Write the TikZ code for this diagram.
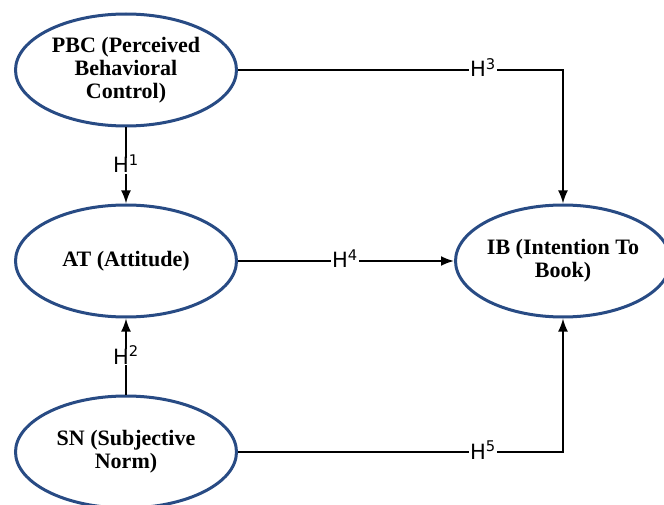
\documentclass[tikz,border=0pt]{standalone}
\usepackage{fontspec}
\setmainfont{Liberation Serif}
\newfontfamily\hypfont{DejaVu Sans}
\usetikzlibrary{positioning,shapes.geometric,arrows.meta}
\definecolor{ConstructBlue}{RGB}{40,75,132}
\tikzset{
  construct/.style={ellipse,draw=ConstructBlue,fill=white,line width=3pt,
    minimum width=221pt,minimum height=112pt,inner sep=0pt,align=center,
    font=\fontsize{22}{23}\selectfont\bfseries},
  hyp/.style={inner sep=1pt,text height=14pt,text depth=0pt,
    font=\fontsize{21}{21}\selectfont\hypfont},
  conn/.style={draw=black,line width=1.9pt},
  connarrow/.style={conn,-{Latex[length=13pt,width=10pt]}},
}

\begin{document}
\begin{tikzpicture}[x=1pt,y=-1pt]
  \useasboundingbox (0,0) rectangle (664,505);

  % constructs
  \node[construct] (pbc) at (126,70) {PBC (Perceived\\Behavioral\\Control)};
  \node[construct] (at) at (126,261) {AT (Attitude)};
  \node[construct] (sn) at (126,452) {SN (Subjective\\Norm)};
  \node[construct,minimum width=208pt] (ib) at (563,261) {IB (Intention To\\Book)};

  % hypotheses
  \node[hyp] (h1) at (126,166) {H\textsuperscript{1}};
  \node[hyp] (h2) at (126,357) {H\textsuperscript{2}};
  \node[hyp] (h3) at (483,70) {H\textsuperscript{3}};
  \node[hyp] (h4) at (345,261) {H\textsuperscript{4}};
  \node[hyp] (h5) at (483,452) {H\textsuperscript{5}};

  \draw[conn] (pbc) -- (h1);
  \draw[connarrow] (h1) -- (at);
  \draw[conn] (sn) -- (h2);
  \draw[connarrow] (h2) -- (at);
  \draw[conn] (pbc) -- (h3);
  \draw[connarrow] (h3) -| (ib);
  \draw[conn] (at) -- (h4);
  \draw[connarrow] (h4) -- (ib);
  \draw[conn] (sn) -- (h5);
  \draw[connarrow] (h5) -| (ib);
\end{tikzpicture}
\end{document}
